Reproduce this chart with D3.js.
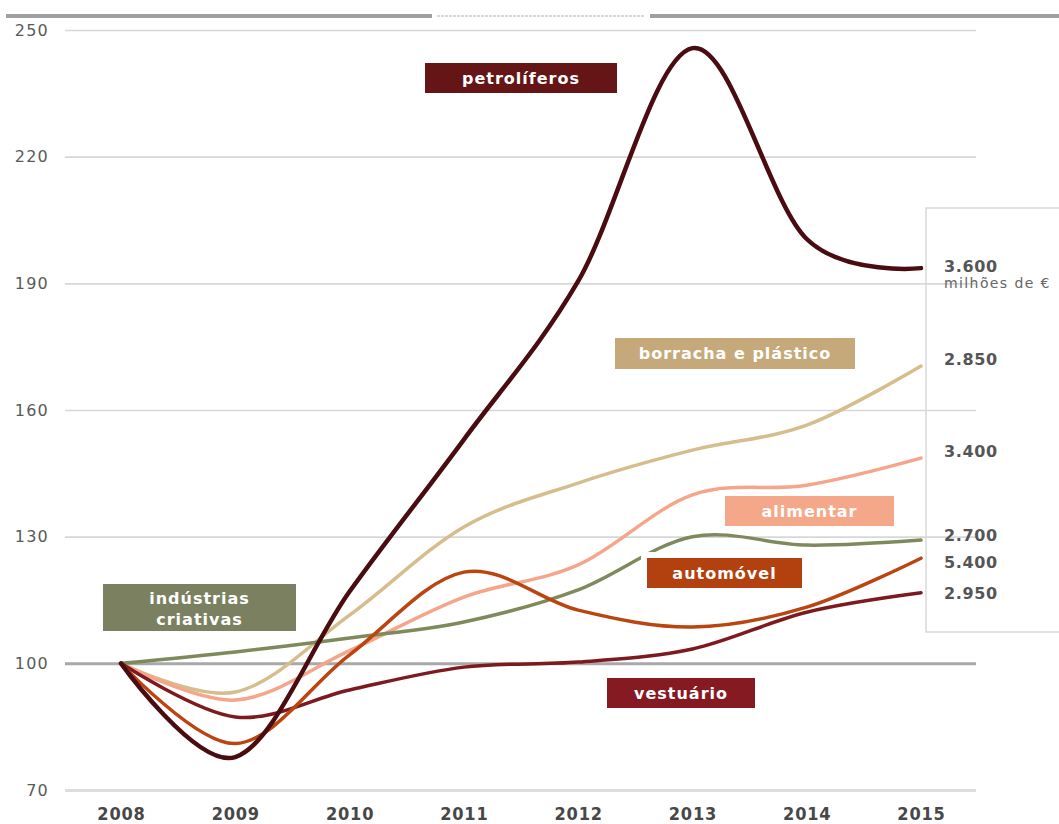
<!DOCTYPE html>
<html>
<head>
<meta charset="utf-8">
<script src="https://cdn.jsdelivr.net/npm/d3@7"></script>
<style>
  html, body { margin: 0; padding: 0; background: #fff; }
  svg { display: block; }
</style>
</head>
<body>
<script>
// ---------------- DATA ----------------
const years = [2008, 2009, 2010, 2011, 2012, 2013, 2014, 2015];
const yTicks = [70, 100, 130, 160, 190, 220, 250];

const petroliferos      = [100, 77.8, 117.0, 153.0, 190.5, 245.7, 200.5, 193.6];
const borrachaPlastico  = [100, 93.2, 111.4, 132.3, 142.7, 150.5, 156.4, 170.4];
const alimentar         = [100, 91.3, 103.0, 115.7, 123.3, 139.9, 142.2, 148.6];
const industriasCriativas = [100, 102.7, 106.0, 109.8, 117.4, 130.0, 128.0, 129.2];
const automovel         = [100, 81.0, 102.0, 121.6, 112.6, 108.6, 113.3, 124.9];
const vestuario         = [100, 87.3, 93.7, 99.1, 100.3, 103.4, 112.1, 116.7];

const seriesNames = ["borracha e plástico", "alimentar", "indústrias criativas", "vestuário", "automóvel", "petrolíferos"];
const seriesValues = [borrachaPlastico, alimentar, industriasCriativas, vestuario, automovel, petroliferos];
const endLabels = ["2.850", "3.400", "2.700", "2.950", "5.400", "3.600"];
const unitLabel = "milhões de €";

// ---------------- STYLE / LAYOUT ----------------
const colors = {
  "petrolíferos": "#4a0c10",
  "borracha e plástico": "#d6bd8c",
  "alimentar": "#f5a68a",
  "indústrias criativas": "#7e8a5c",
  "automóvel": "#bb4510",
  "vestuário": "#7d1a1f"
};
const boxColors = {
  "petrolíferos": "#651516",
  "borracha e plástico": "#c6a97a",
  "alimentar": "#f5a889",
  "indústrias criativas": "#7b8160",
  "automóvel": "#b3410f",
  "vestuário": "#861a22"
};
const widths = { "petrolíferos": 4.5 };
// label box layout [x, y, w, h]
const boxLayout = {
  "petrolíferos": [425, 63, 192, 30],
  "borracha e plástico": [615, 338, 240, 31],
  "alimentar": [725, 496, 169, 30],
  "automóvel": [647, 558, 155, 30],
  "indústrias criativas": [103, 584, 193, 47],
  "vestuário": [607, 678, 148, 30]
};
const endLabelOffset = {
  "petrolíferos": -2, "borracha e plástico": -7, "alimentar": -7,
  "indústrias criativas": -5, "automóvel": 4, "vestuário": 0
};

const W = 1059, H = 824;
const svg = d3.select("body").append("svg").attr("width", W).attr("height", H);

const x = d3.scaleLinear().domain([2008, 2015]).range([121, 921]);
const y = d3.scaleLinear().domain([70, 250]).range([790, 30]);

// top bar
svg.append("line").attr("x1", 6).attr("x2", 432).attr("y1", 16).attr("y2", 16)
  .attr("stroke", "#a0a0a0").attr("stroke-width", 4);
svg.append("line").attr("x1", 650).attr("x2", W).attr("y1", 16).attr("y2", 16)
  .attr("stroke", "#a0a0a0").attr("stroke-width", 4);
svg.append("line").attr("x1", 437).attr("x2", 645).attr("y1", 16).attr("y2", 16)
  .attr("stroke", "#d8d8d8").attr("stroke-width", 2).attr("stroke-dasharray", "3,1");

// right box
svg.append("rect").attr("x", 926).attr("y", 208).attr("width", 200).attr("height", 424)
  .attr("fill", "none").attr("stroke", "#cfcfcf").attr("stroke-width", 1.2);

// y axis with gridlines
const gridLeft = 65, gridRight = 976;
const yAxis = d3.axisLeft(y).tickValues(yTicks).tickSize(-(gridRight - gridLeft)).tickPadding(16);
const gy = svg.append("g").attr("transform", `translate(${gridLeft},0)`).call(yAxis);
gy.select(".domain").remove();
gy.selectAll(".tick line")
  .attr("stroke", d => d === 100 ? "#a8a8a8" : (d === 70 ? "#dddddd" : "#d6d7d9"))
  .attr("stroke-width", d => (d === 100 || d === 70) ? 3 : 1.6);
gy.selectAll(".tick text")
  .attr("font-family", "'DejaVu Sans', sans-serif")
  .attr("font-size", 16).attr("letter-spacing", 1.2)
  .attr("fill", "#5a5a5a");

// x axis
const xAxis = d3.axisBottom(x).tickValues(years).tickFormat(d3.format("d")).tickSize(0).tickPadding(5);
const gx = svg.append("g").attr("transform", "translate(0,802)").call(xAxis);
gx.select(".domain").remove();
gx.selectAll(".tick text")
  .attr("font-family", "'DejaVu Sans Condensed', 'DejaVu Sans', sans-serif")
  .attr("font-weight", "bold").attr("font-size", 18).attr("letter-spacing", 0.8)
  .attr("fill", "#474747");

// lines (uniform Catmull-Rom, like a spreadsheet "smoothed line")
const line = d3.line().x((d, i) => x(years[i])).y(d => y(d)).curve(d3.curveCardinal.tension(0));
seriesNames.forEach((name, k) => {
  svg.append("path")
    .attr("d", line(seriesValues[k]))
    .attr("fill", "none")
    .attr("stroke", colors[name])
    .attr("stroke-width", widths[name] || 3.5)
    .attr("stroke-linecap", "round")
    .attr("stroke-linejoin", "round");
});

// label boxes with white halo
seriesNames.forEach(name => {
  const [bx, by, bw, bh] = boxLayout[name];
  svg.append("rect").attr("x", bx - 6).attr("y", by - 6).attr("width", bw + 12).attr("height", bh + 12)
    .attr("fill", "#fff");
  svg.append("rect").attr("x", bx).attr("y", by).attr("width", bw).attr("height", bh)
    .attr("fill", boxColors[name]);
  const parts = name === "indústrias criativas" ? ["indústrias", "criativas"] : [name];
  const t = svg.append("text")
    .attr("x", bx + bw / 2)
    .attr("text-anchor", "middle")
    .attr("font-family", "'DejaVu Sans', sans-serif")
    .attr("font-weight", "bold")
    .attr("font-size", 16)
    .attr("letter-spacing", 1)
    .attr("fill", "#ffffff");
  parts.forEach((p, i) => {
    const cy = parts.length === 1 ? by + bh / 2 : by + 14 + i * 21;
    t.append("tspan").attr("x", bx + bw / 2).attr("y", cy).attr("dy", "0.36em").text(p);
  });
});

// end labels
seriesNames.forEach((name, k) => {
  const vals = seriesValues[k];
  const ly = y(vals[vals.length - 1]) + endLabelOffset[name];
  svg.append("text")
    .attr("x", 944).attr("y", ly).attr("dy", "0.36em")
    .attr("font-family", "'DejaVu Sans', sans-serif")
    .attr("font-weight", "bold").attr("font-size", 16).attr("letter-spacing", 0.6)
    .attr("fill", "#555555")
    .text(endLabels[k]);
  if (name === "petrolíferos") {
    svg.append("text")
      .attr("x", 944).attr("y", ly + 17).attr("dy", "0.36em")
      .attr("font-family", "'DejaVu Sans', sans-serif")
      .attr("font-size", 14).attr("letter-spacing", 1.4)
      .attr("fill", "#666666")
      .text(unitLabel);
  }
});
</script>
</body>
</html>
